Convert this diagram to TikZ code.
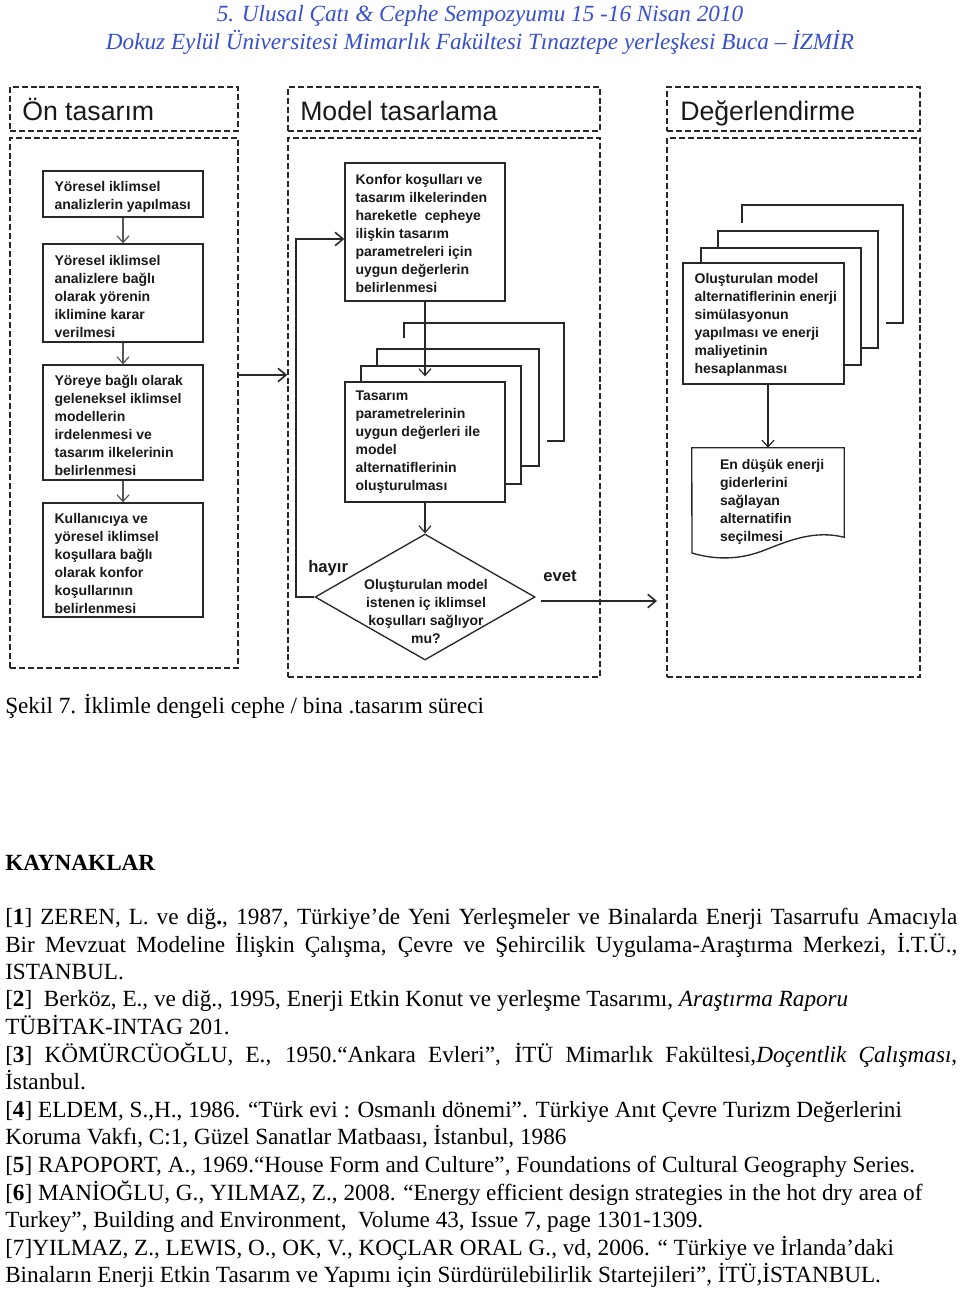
\documentclass[tikz,border=0pt]{standalone}
\usepackage{fontspec}
\setmainfont{Liberation Serif}
\newfontfamily\dsans{Liberation Sans}
\usetikzlibrary{shapes.geometric,arrows.meta}
\definecolor{hblue}{RGB}{55,80,205}
\definecolor{lnc}{RGB}{40,40,40}
\definecolor{grc}{RGB}{85,85,85}
\definecolor{txc}{RGB}{25,25,25}
\newlength\px \setlength\px{0.75pt}
\begin{document}
\begin{tikzpicture}[x=0.75pt,y=-0.75pt,
 dbox/.style={draw=lnc, line width=1.1pt, dash pattern=on 4.5pt off 2.2pt, rectangle, inner sep=0},
 box/.style={draw=lnc, line width=1pt, rectangle, inner sep=0},
 dtxt/.style={font=\dsans\bfseries\fontsize{10.5}{13.5}\selectfont, text=txc, align=left, inner sep=0, anchor=west},
 lbl/.style={font=\dsans\bfseries\fontsize{12.5}{15}\selectfont, text=txc, inner sep=0, anchor=base west},
 ttl/.style={font=\dsans\fontsize{20}{24}\selectfont, text=txc, inner sep=0, anchor=base west},
 garr/.style={draw=grc, line width=0.9pt, -{Straight Barb[length=5pt,width=9pt]}},
 barr/.style={draw=lnc, line width=1.2pt, -{Straight Barb[length=6pt,width=10pt]}},
 ref/.style={font=\fontsize{17.4}{20}\selectfont, inner sep=0, anchor=base west},
 hdr/.style={font=\itshape\fontsize{17.4}{20}\selectfont, text=hblue, inner sep=0, anchor=base}
]
\useasboundingbox (0,0) rectangle (960,1291);
\fill[white] (0,0) rectangle (960,1291);

% header
\node[hdr] (hd1) at (480,22) {5. Ulusal Çatı \& Cephe Sempozyumu 15 -16 Nisan 2010};
\node[hdr] (hd2) at (480,50) {Dokuz Eylül Üniversitesi Mimarlık Fakültesi Tınaztepe yerleşkesi Buca – İZMİR};

% column frames
\node[dbox, minimum width=228\px, minimum height=44\px] (c1h) at (124,109) {};
\node[dbox, minimum width=228\px, minimum height=530\px] (c1b) at (124,403) {};
\node[dbox, minimum width=312\px, minimum height=44\px] (c2h) at (444,109) {};
\node[dbox, minimum width=312\px, minimum height=539\px] (c2b) at (444,407.5) {};
\node[dbox, minimum width=253\px, minimum height=44\px] (c3h) at (793.5,109) {};
\node[dbox, minimum width=253\px, minimum height=539\px] (c3b) at (793.5,407.5) {};

\node[ttl] (t1) at (22,121) {Ön tasarım};
\node[ttl] (t2) at (300,121) {Model tasarlama};
\node[ttl] (t3) at (680,121) {Değerlendirme};

% left column
\node[box, minimum width=160\px, minimum height=46\px] (b1) at (123,194) {};
\node[dtxt] (b1t) at ([xshift=12\px,yshift=-3\px]b1.west) {Yöresel iklimsel\\analizlerin yapılması};
\node[box, minimum width=160\px, minimum height=98\px] (b2) at (123,293) {};
\node[dtxt] (b2t) at ([xshift=12\px,yshift=-3\px]b2.west) {Yöresel iklimsel\\analizlere bağlı\\olarak yörenin\\iklimine karar\\verilmesi};
\node[box, minimum width=160\px, minimum height=115\px] (b3) at (123,422.5) {};
\node[dtxt] (b3t) at ([xshift=12\px,yshift=-3\px]b3.west) {Yöreye bağlı olarak\\geleneksel iklimsel\\modellerin\\irdelenmesi ve\\tasarım ilkelerinin\\belirlenmesi};
\node[box, minimum width=160\px, minimum height=114\px] (b4) at (123,560) {};
\node[dtxt] (b4t) at ([xshift=12\px,yshift=-3\px]b4.west) {Kullanıcıya ve\\yöresel iklimsel\\koşullara bağlı\\olarak konfor\\koşullarının\\belirlenmesi};
\draw[garr] (b1.south) -- (b2.north);
\draw[garr] (b2.south) -- (b3.north);
\draw[garr] (b3.south) -- (b4.north);

\draw[barr] (c1b.east |- 0,375) -- (c2b.west |- 0,375);

% middle column
\node[box, minimum width=160\px, minimum height=138\px] (bA) at (425,232) {};
\node[dtxt] (bAt) at ([xshift=11\px,yshift=-1\px]bA.west) {Konfor koşulları ve\\tasarım ilkelerinden\\hareketle~ cepheye\\ilişkin tasarım\\parametreleri için\\uygun değerlerin\\belirlenmesi};
\draw[box] (404,338) -- (404,323) -- (564,323) -- (564,441) -- (547,441);
\draw[box] (377,366) -- (377,349) -- (539,349) -- (539,466) -- (521,466);
\draw[box] (361,382) -- (361,366) -- (521,366) -- (521,484) -- (505,484);
\node[box, fill=white, minimum width=160\px, minimum height=120\px] (bB) at (425,442) {};
\node[dtxt] (bBt) at ([xshift=11\px,yshift=0\px]bB.west) {Tasarım\\parametrelerinin\\uygun değerleri ile\\model\\alternatiflerinin\\oluşturulması};
\draw[garr, draw=lnc] (bA.south) -- ([yshift=5\px]bB.north);
\node[draw=lnc, line width=1pt, diamond, minimum width=220\px, minimum height=126\px, inner sep=0] (dia) at (425,597) {};
\draw[garr, draw=lnc] (bB.south) -- (dia.north);
\node[dtxt, align=center, anchor=center] (diat) at (426,611) {Oluşturulan model\\istenen iç iklimsel\\koşulları sağlıyor\\mu?};
\draw[barr] (dia.west) -- (296,597) |- ([yshift=-7\px]bA.west);
\node[lbl] (hay) at (308,572) {hayır};
\node[lbl] (evt) at (543,581) {evet};
\coordinate (evend) at (657,601);
\draw[barr] ([xshift=5\px,yshift=-4\px]dia.east) -- (evend);

% right column
\draw[box] (742,223) -- (742,205) -- (903,205) -- (903,323) -- (886,323);
\draw[box] (718,248) -- (718,231) -- (878,231) -- (878,348) -- (861,348);
\draw[box] (701,263) -- (701,248) -- (861,248) -- (861,365) -- (844,365);
\node[box, fill=white, minimum width=161\px, minimum height=121\px] (bC) at (763.5,323.5) {};
\node[dtxt] (bCt) at ([xshift=12\px,yshift=-1\px]bC.west) {Oluşturulan model\\alternatiflerinin enerji\\simülasyonun\\yapılması ve enerji\\maliyetinin\\hesaplanması};
\node[minimum width=152\px, minimum height=89\px, inner sep=0] (doc) at (768,492.5) {};
\draw[box] (doc.north west) -- (doc.north east) -- (doc.south east) .. controls (815,530) and (790,540) .. (765,550) .. controls (740,560) and (715,560) .. (692,553) -- cycle;
\node[dtxt] (doct) at ([xshift=28\px,yshift=-9\px]doc.west) {En düşük enerji\\giderlerini\\sağlayan\\alternatifin\\seçilmesi};
\draw[garr, draw=lnc] (bC.south -| doc.north) -- (doc.north);

% caption
\node[ref] (cap) at (5,713) {Şekil 7. İklimle dengeli cephe / bina .tasarım süreci};

% references
\node[ref] (kay) at (5,870) {\textbf{KAYNAKLAR}};
\node[ref] (r1a) at (5,924) {\makebox[952\px][s]{[\textbf{1}] ZEREN, L. ve diğ\textbf{.}, 1987, Türkiye’de Yeni Yerleşmeler ve Binalarda Enerji Tasarrufu Amacıyla}};
\node[ref] (r1b) at (5,952) {\makebox[952\px][s]{Bir Mevzuat Modeline İlişkin Çalışma, Çevre ve Şehircilik Uygulama-Araştırma Merkezi, İ.T.Ü.,}};
\node[ref] (r1c) at (5,979) {ISTANBUL.};
\node[ref] (r2a) at (5,1006) {[\textbf{2}]\ \ Berköz, E., ve diğ., 1995, Enerji Etkin Konut ve yerleşme Tasarımı, \textit{Araştırma Raporu}};
\node[ref] (r2b) at (5,1034) {TÜBİTAK-INTAG 201.};
\node[ref] (r3a) at (5,1062) {\makebox[952\px][s]{[\textbf{3}] KÖMÜRCÜOĞLU, E., 1950.“Ankara Evleri”, İTÜ Mimarlık Fakültesi,\textit{Doçentlik Çalışması},}};
\node[ref] (r3b) at (5,1089) {İstanbul.};
\node[ref] (r4a) at (5,1117) {[\textbf{4}] ELDEM, S.,H., 1986. “Türk evi : Osmanlı dönemi”. Türkiye Anıt Çevre Turizm Değerlerini};
\node[ref] (r4b) at (5,1144) {Koruma Vakfı, C:1, Güzel Sanatlar Matbaası, İstanbul, 1986};
\node[ref] (r5a) at (5,1172) {[\textbf{5}] RAPOPORT, A., 1969.“House Form and Culture”, Foundations of Cultural Geography Series.};
\node[ref] (r6a) at (5,1200) {[\textbf{6}] MANİOĞLU, G., YILMAZ, Z., 2008. “Energy efficient design strategies in the hot dry area of};
\node[ref] (r6b) at (5,1227) {Turkey”, Building and Environment,\ \ Volume 43, Issue 7, page 1301-1309.};
\node[ref] (r7a) at (5,1255) {[7]YILMAZ, Z., LEWIS, O., OK, V., KOÇLAR ORAL G., vd, 2006. “ Türkiye ve İrlanda’daki};
\node[ref] (r7b) at (5,1282) {Binaların Enerji Etkin Tasarım ve Yapımı için Sürdürülebilirlik Startejileri”, İTÜ,İSTANBUL.};
\end{tikzpicture}
\end{document}
